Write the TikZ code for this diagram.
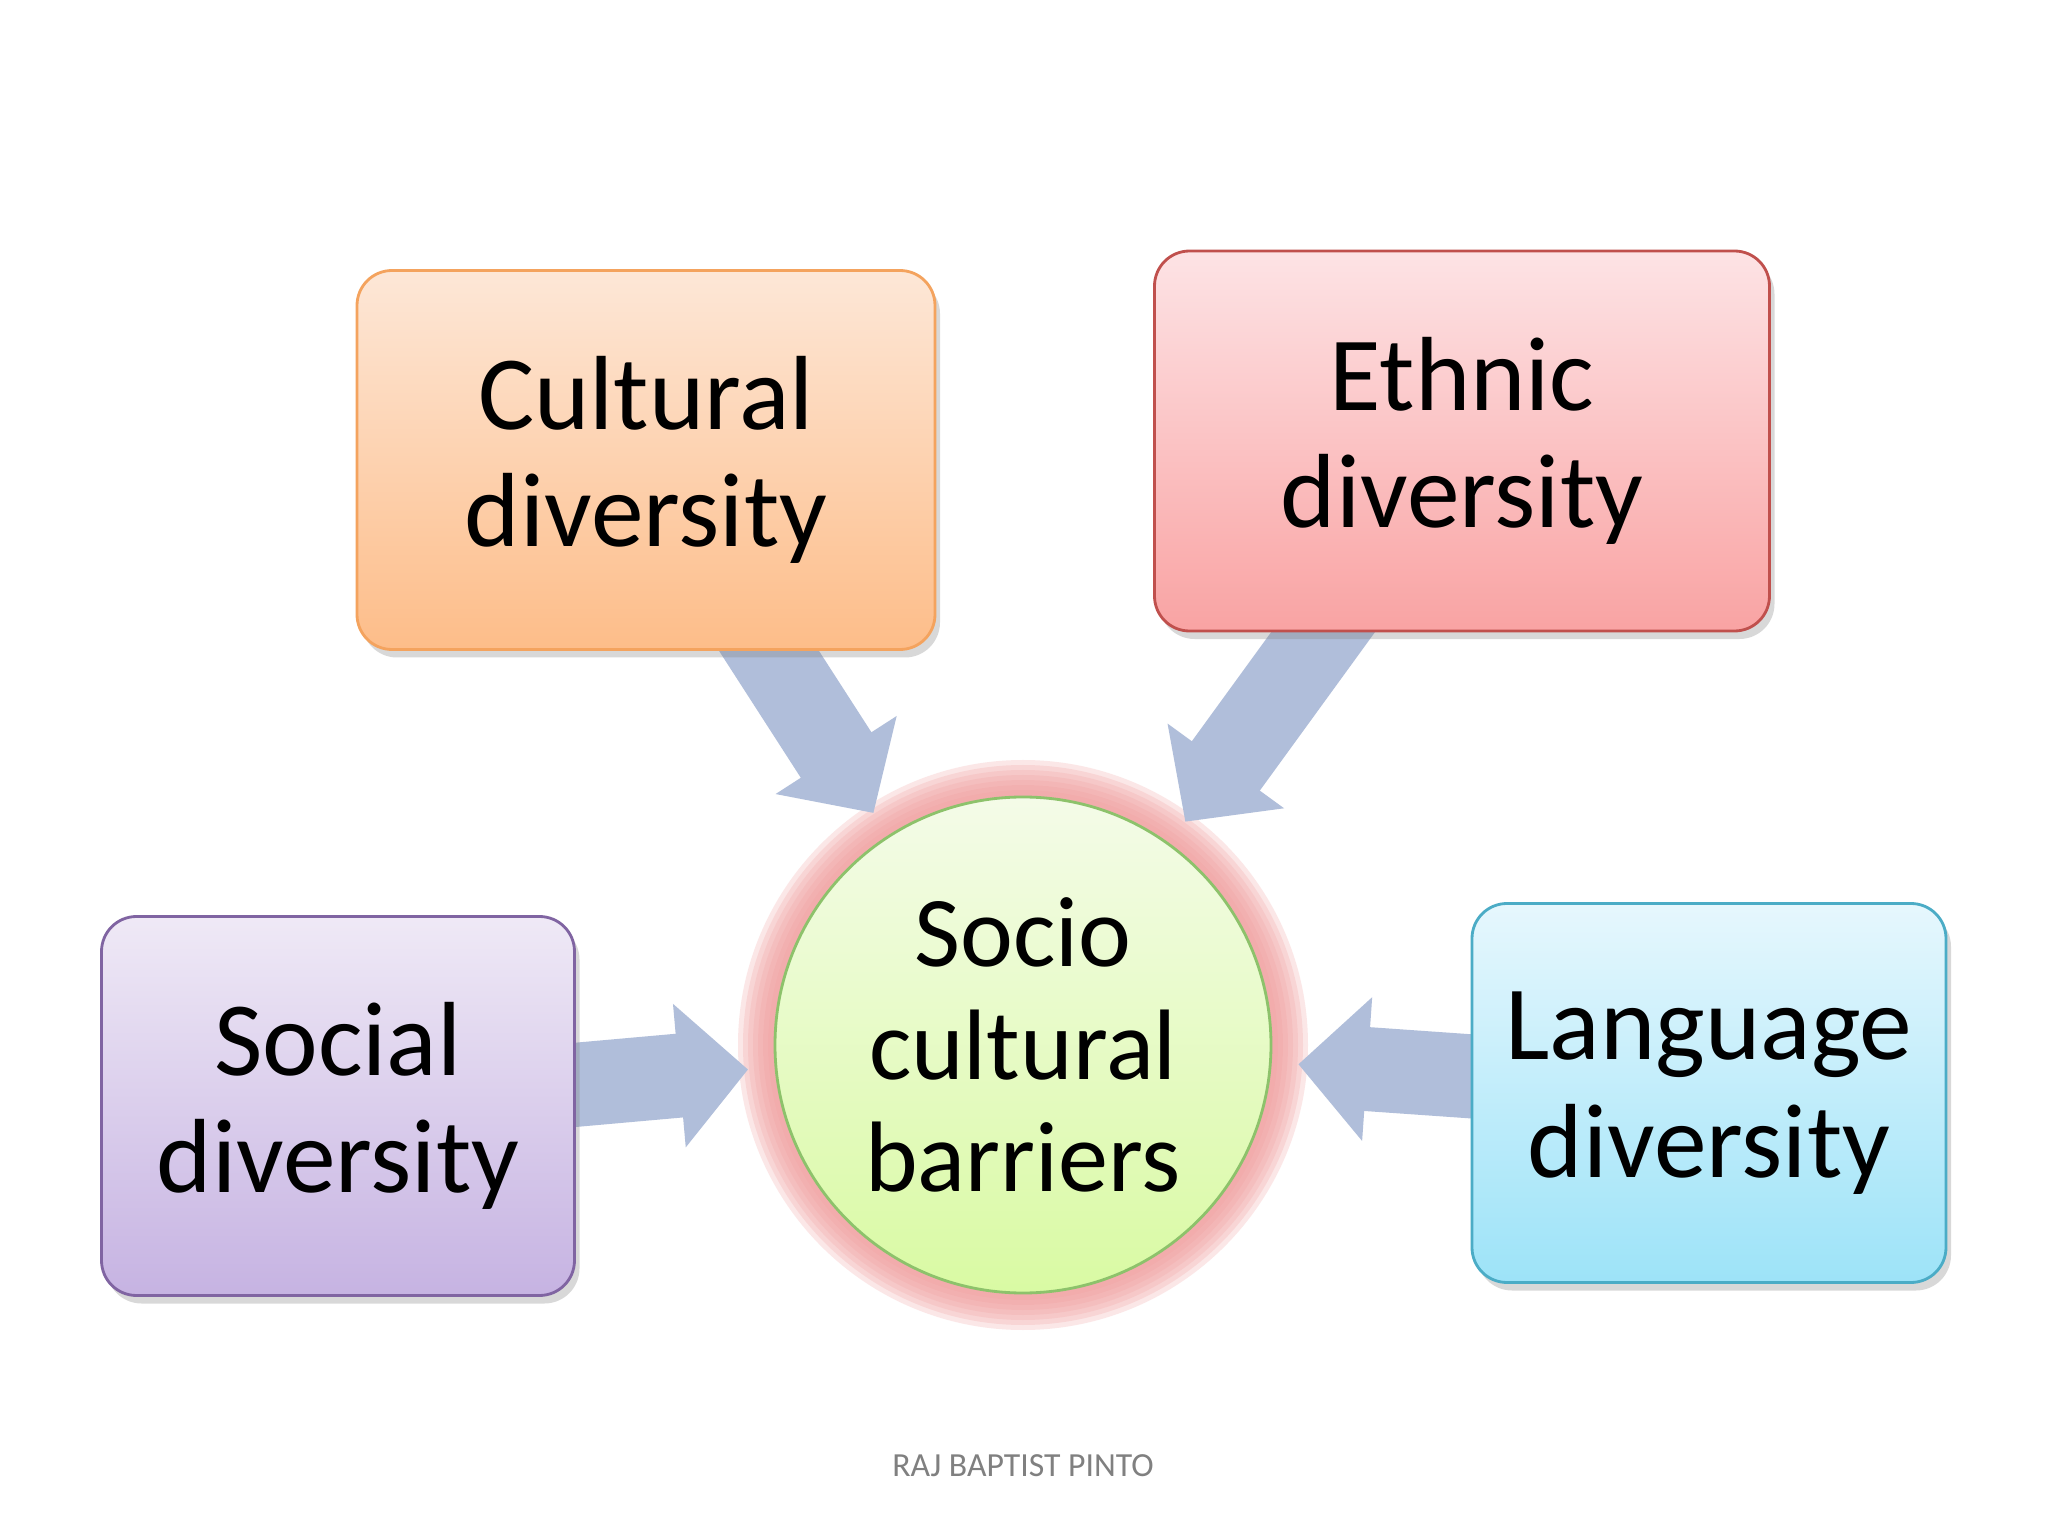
\documentclass[tikz,border=0pt]{standalone}
\usepackage{fontspec}
\setmainfont{Carlito}
\usetikzlibrary{arrows.meta,shadows,backgrounds}
\definecolor{cultTop}{HTML}{FDE7D7}
\definecolor{cultBot}{HTML}{FDBD89}
\definecolor{cultLine}{HTML}{F4A35E}
\definecolor{ethTop}{HTML}{FDE3E5}
\definecolor{ethBot}{HTML}{F9A3A3}
\definecolor{ethLine}{HTML}{C0504D}
\definecolor{socTop}{HTML}{EFE9F6}
\definecolor{socBot}{HTML}{C6B3E2}
\definecolor{socLine}{HTML}{8064A2}
\definecolor{langTop}{HTML}{E6F7FD}
\definecolor{langBot}{HTML}{9DE3F8}
\definecolor{langLine}{HTML}{4BACC6}
\definecolor{hubTop}{HTML}{F4FBE8}
\definecolor{hubBot}{HTML}{D9FAA3}
\definecolor{hubLine}{HTML}{8DC26B}
\definecolor{glowRed}{HTML}{F2A2A2}
\definecolor{flowBlue}{HTML}{B0BEDA}
\tikzset{
  topic/.style={draw=#1Line, line width=0.8pt, top color=#1Top, bottom color=#1Bot,
    rounded corners=0.35cm, align=center, font=\fontsize{30}{33.5}\selectfont,
    drop shadow={opacity=0.3, shadow xshift=0.05cm, shadow yshift=-0.08cm}},
  hub/.style={circle, draw=hubLine, line width=0.8pt, top color=hubTop, bottom color=hubBot,
    minimum size=4.96cm, inner sep=0pt, align=center, font=\fontsize{28.5}{32}\selectfont},
  flow/.style={draw=flowBlue, line width=0.84cm, shorten <=1cm, shorten >=2.76cm,
    -{Triangle[length=0.69cm, width=1.40cm]}}
}

\begin{document}
\begin{tikzpicture}
\useasboundingbox (0,0) rectangle (20.48,-15.36);

\node (cult) [topic=cult, minimum width=5.78cm, minimum height=3.79cm] at (6.46,-4.60) {Cultural\\diversity};
\node (eth)  [topic=eth,  minimum width=6.15cm, minimum height=3.80cm] at (14.62,-4.41) {Ethnic\\diversity};
\node (socl) [topic=soc,  minimum width=4.73cm, minimum height=3.79cm] at (3.38,-11.06) {Social\\diversity};
\node (lang) [topic=lang, minimum width=4.74cm, minimum height=3.79cm] at (17.09,-10.93) {Language\\diversity};
\node (core) [hub] at (10.23,-10.45) {Socio\\cultural\\barriers};

\node (credit) [text=black!50, font=\fontsize{9.6}{11}\selectfont] at (10.23,-14.66) {RAJ BAPTIST PINTO};

\begin{scope}[on background layer]
  \fill[white] (0,0) rectangle (20.48,-15.36);
  % soft glow round the hub
  \foreach \r in {2.55,2.60,...,2.90}
    \fill[glowRed, opacity=0.25] (core) circle (\r);
  \draw[flow] (cult.center) -- (core.center);
  \draw[flow] (eth.center)  -- (core.center);
  \draw[flow] (socl.center) -- (core.center);
  \draw[flow] (lang.center) -- (core.center);
\end{scope}
\end{tikzpicture}
\end{document}
